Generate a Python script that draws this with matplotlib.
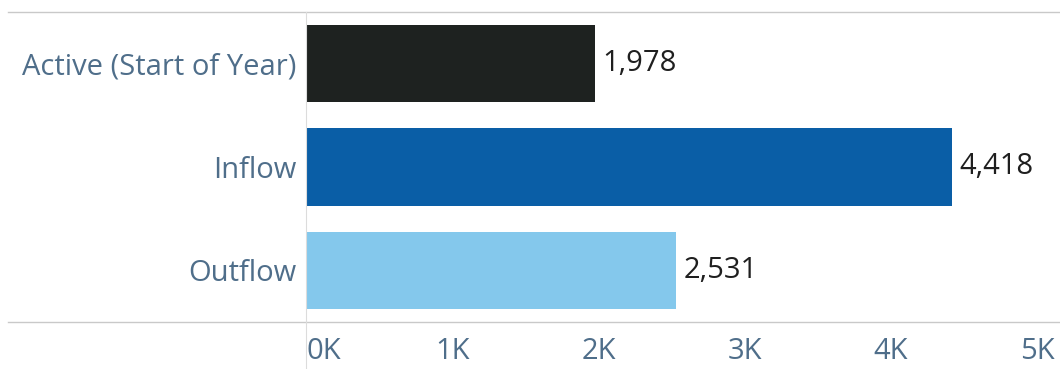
import matplotlib
matplotlib.use('Agg')
import matplotlib.pyplot as plt
from matplotlib.lines import Line2D
from matplotlib.ticker import FuncFormatter

categories = ['Active (Start of Year)', 'Inflow', 'Outflow']
values = [1978, 4418, 2531]
colors = ['#1e2220', '#0a5ea6', '#84c8ec']
xticks = [0, 1000, 2000, 3000, 4000, 5000]

LABEL = '#4f6e8a'
RULE = '#c9c9c9'

plt.rcParams['font.family'] = ['Open Sans', 'DejaVu Sans']

fig = plt.figure(figsize=(10.6, 3.69), dpi=100)
ax = fig.add_axes([306 / 1060, 1 - 322 / 369, 1 - 306 / 1060, 310 / 369])

y = list(range(len(categories)))
ax.barh(y, values, color=colors, height=0.75)
for yi, v in zip(y, values):
    ax.text(v + 50, yi, f'{v:,}', va='center', ha='left', fontsize=21, color='#1f1f1f')

ax.set_ylim(2.5, -0.5)
ax.set_xlim(0, 5157)
ax.set_yticks(y)
ax.set_yticklabels(categories, fontsize=21, color=LABEL)
ax.set_xticks(xticks)
ax.xaxis.set_major_formatter(FuncFormatter(lambda v, p: f'{v / 1000:.0f}K'))
ax.tick_params(axis='x', labelsize=21, labelcolor=LABEL, length=0, pad=11)
ax.tick_params(axis='y', length=0, pad=7)
# first label sits to the right of the zero line
ax.get_xticklabels()[0].set_ha('left')
for s in ax.spines.values():
    s.set_visible(False)

# header / footer rules running under the row labels too
for yy in (1 - 12 / 369, 1 - 322 / 369):
    fig.add_artist(Line2D([8 / 1060, 1], [yy, yy], color=RULE, lw=1))
fig.add_artist(Line2D([306 / 1060, 306 / 1060], [0, 1 - 12 / 369], color='#dcdcdc', lw=0.8))

fig.savefig('out.png', dpi=100)
